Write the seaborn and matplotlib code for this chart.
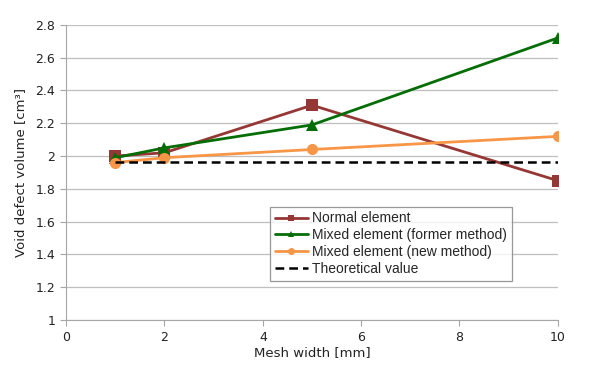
import matplotlib
matplotlib.use("Agg")
import matplotlib.pyplot as plt
import seaborn as sns
import pandas as pd
from matplotlib.ticker import FuncFormatter, MultipleLocator

# values
mesh_width = [1, 2, 5, 10]
normal = [2.00, 2.02, 2.31, 1.85]
mixed_former = [1.99, 2.05, 2.19, 2.72]
mixed_new = [1.96, 1.99, 2.04, 2.12]
theory_x = [1, 10]
theory_y = [1.965, 1.965]

series = ["Normal element", "Mixed element (former method)", "Mixed element (new method)"]
colors = ["#953735", "#056d05", "#f79646"]
markers = ["s", "^", "o"]

df = pd.DataFrame({
    "x": mesh_width * 3,
    "y": normal + mixed_former + mixed_new,
    "series": [s for s in series for _ in mesh_width],
})

sns.set_style("white")
plt.rcParams["font.family"] = ["DejaVu Sans"]

fig, ax = plt.subplots(figsize=(6.07, 3.65), dpi=100)
fig.subplots_adjust(left=0.109, right=0.919, top=0.932, bottom=0.123)

sns.lineplot(data=df, x="x", y="y", hue="series", style="series",
             palette=dict(zip(series, colors)),
             markers=dict(zip(series, markers)), dashes=False,
             markersize=8, markeredgewidth=0, linewidth=2, ax=ax)
sns.lineplot(x=theory_x, y=theory_y, color="black", linestyle=(0, (3.5, 2)),
             linewidth=1.8, label="Theoretical value", ax=ax)

ax.set_xlim(0, 10)
ax.set_ylim(1, 2.8)
ax.xaxis.set_major_locator(MultipleLocator(2))
ax.yaxis.set_major_locator(MultipleLocator(0.2))
ax.yaxis.set_major_formatter(FuncFormatter(lambda v, p: f"{v:g}"))
ax.grid(axis="y", color="#bfbfbf", linewidth=0.9)
ax.set_axisbelow(True)
for side in ["top", "right"]:
    ax.spines[side].set_visible(False)
for side in ["left", "bottom"]:
    ax.spines[side].set_color("#a6a6a6")
ax.tick_params(axis="both", labelsize=9, length=4, pad=4,
               direction="out", width=0.8, left=True, bottom=True, color="#a6a6a6")
ax.tick_params(labelcolor="#222222")

ax.set_xlabel("Mesh width [mm]", fontsize=9.5, labelpad=1, color="#222222")
ax.set_ylabel("Void defect volume [cm³]", fontsize=9.5, labelpad=6, color="#222222")

leg = ax.legend(loc="lower left", bbox_to_anchor=(0.40, 0.11), frameon=True,
                fancybox=False, edgecolor="#7f7f7f", handlelength=2.4,
                handletextpad=0.3, borderpad=0.35, labelspacing=0.2,
                prop={"family": "Liberation Sans", "size": 10})
leg.get_frame().set_linewidth(0.9)
for h in leg.legend_handles:
    h.set_markersize(5)

fig.savefig("out.png", dpi=100)
